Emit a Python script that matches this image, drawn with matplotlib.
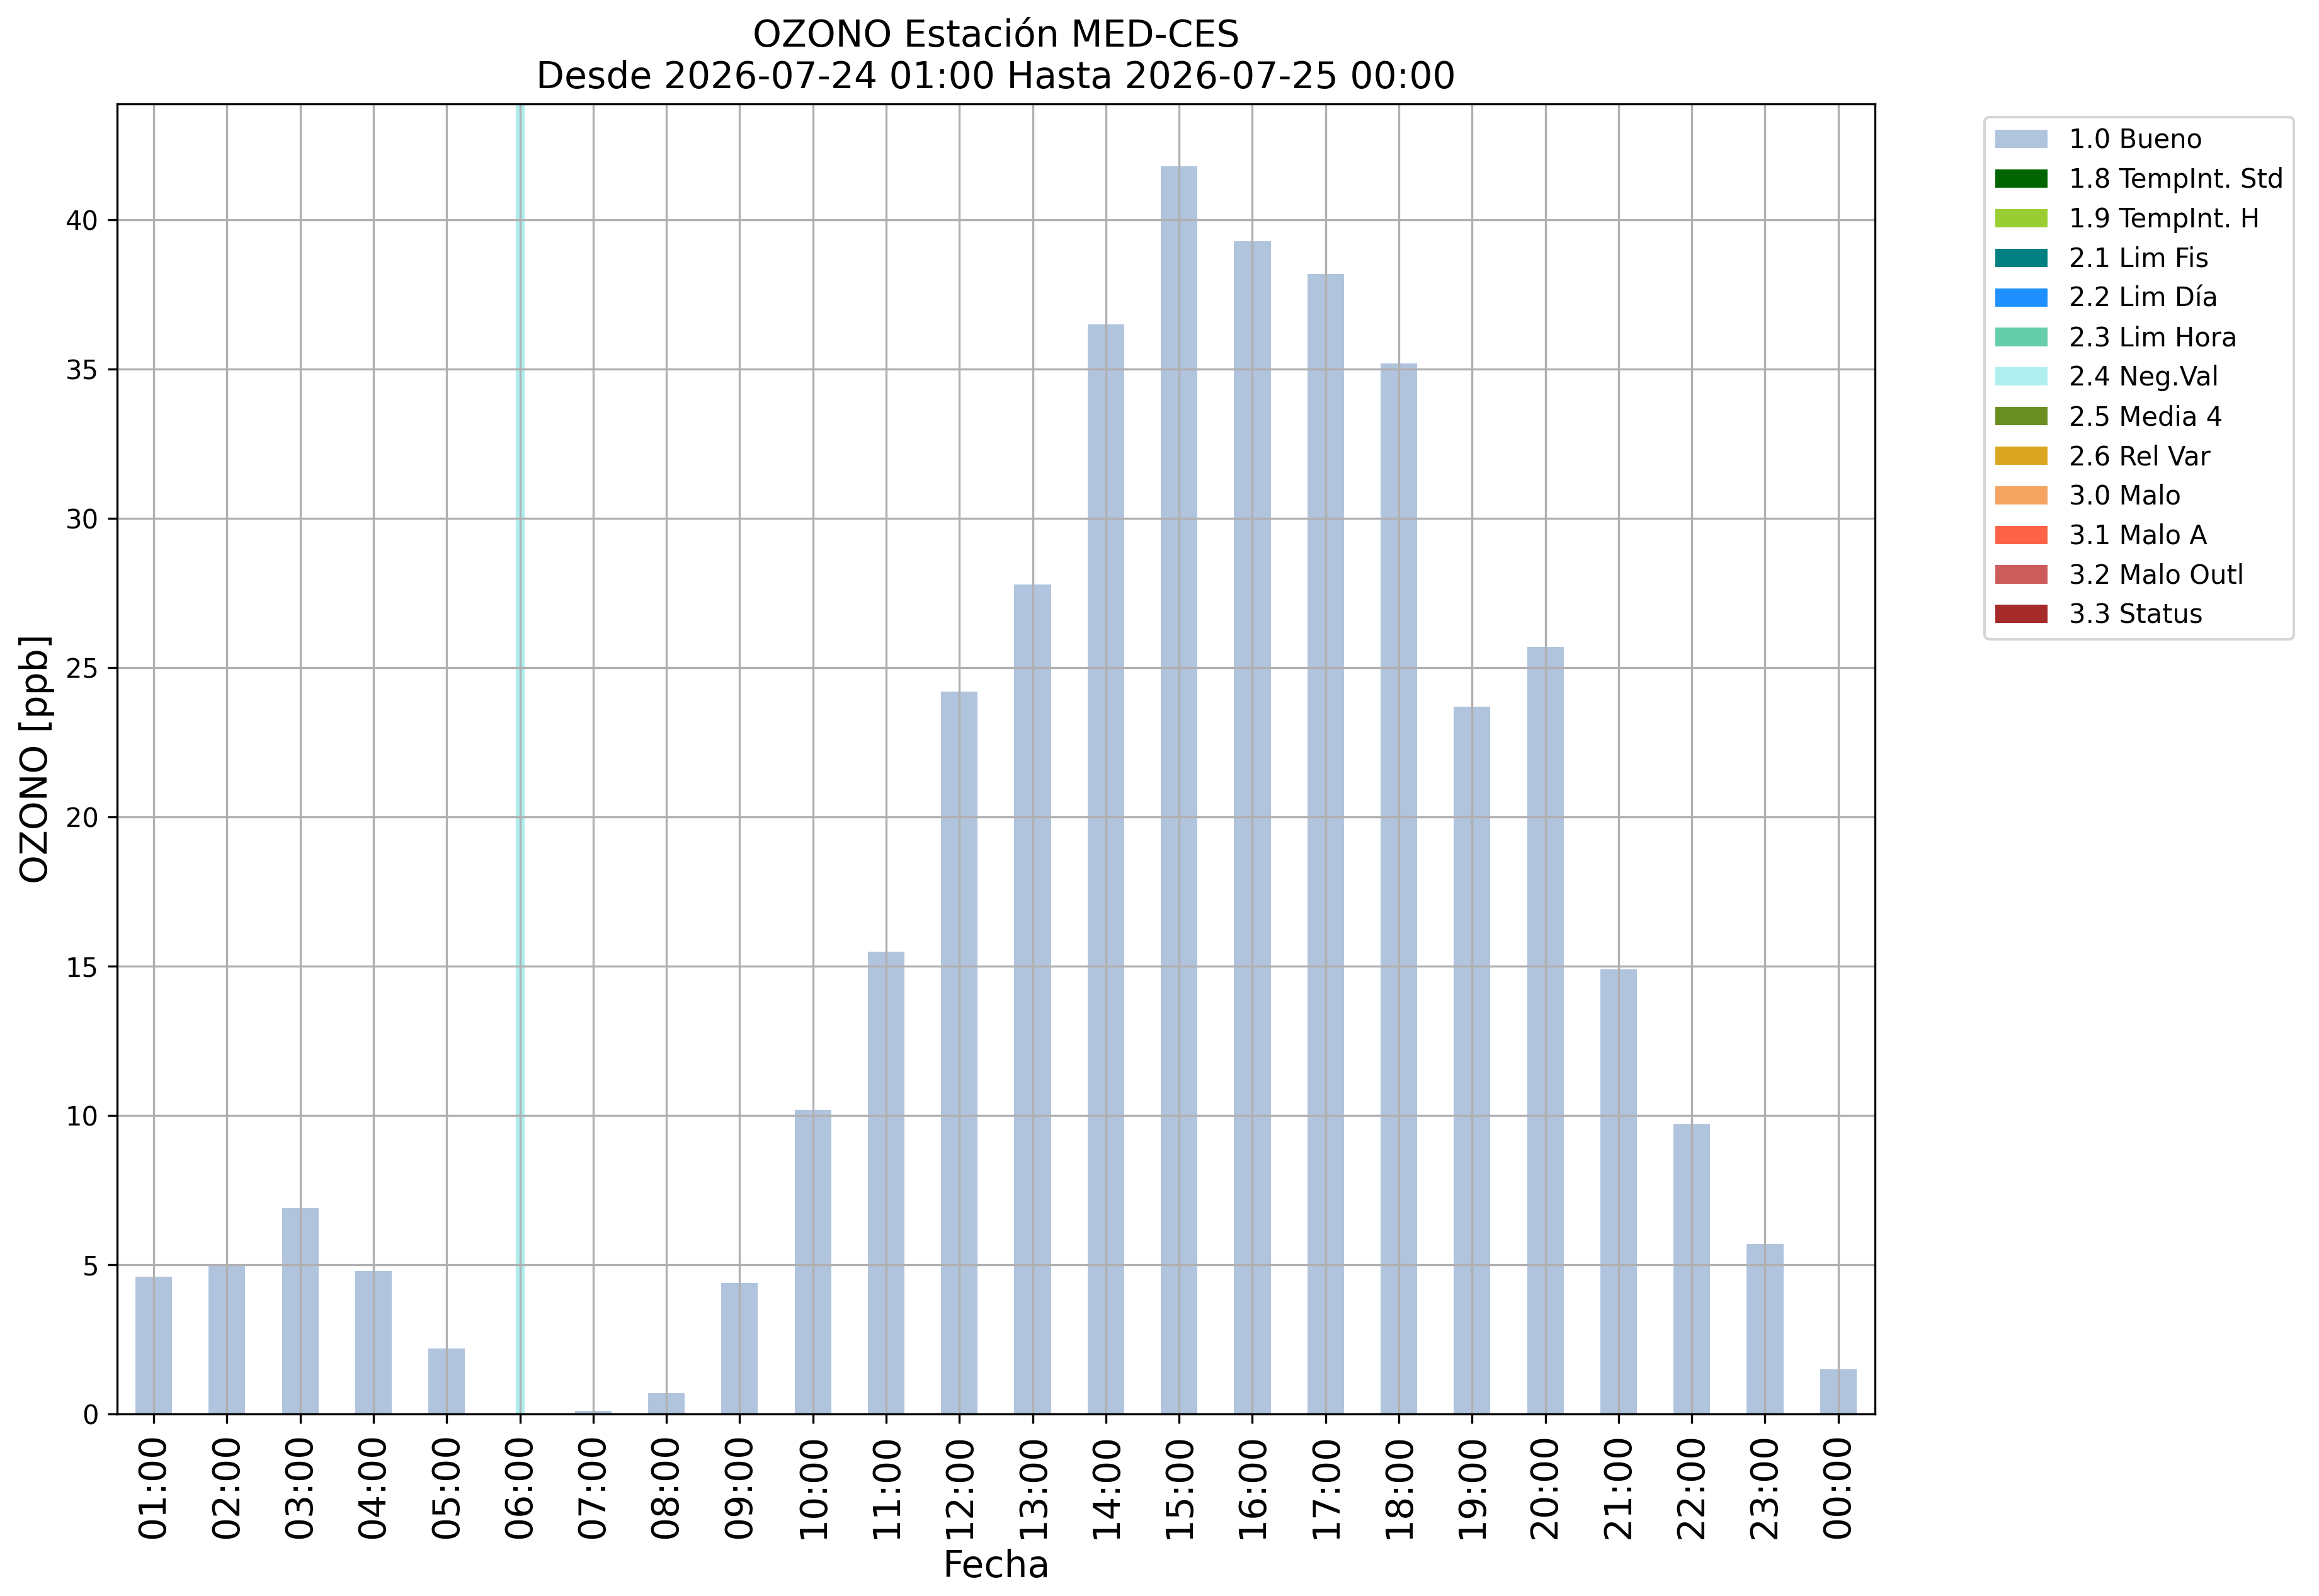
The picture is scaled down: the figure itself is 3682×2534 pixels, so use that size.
import matplotlib
matplotlib.use("Agg")
import matplotlib.pyplot as plt
from matplotlib.patches import Patch
import numpy as np

hours = ["01:00", "02:00", "03:00", "04:00", "05:00", "06:00", "07:00", "08:00",
         "09:00", "10:00", "11:00", "12:00", "13:00", "14:00", "15:00", "16:00",
         "17:00", "18:00", "19:00", "20:00", "21:00", "22:00", "23:00", "00:00"]
ozono = [4.6, 5.0, 6.9, 4.8, 2.2, 0.0, 0.1, 0.7,
         4.4, 10.2, 15.5, 24.2, 27.8, 36.5, 41.8, 39.3,
         38.2, 35.2, 23.7, 25.7, 14.9, 9.7, 5.7, 1.5]
flags = ["1.0", "1.0", "1.0", "1.0", "1.0", "2.4", "1.0", "1.0",
         "1.0", "1.0", "1.0", "1.0", "1.0", "1.0", "1.0", "1.0",
         "1.0", "1.0", "1.0", "1.0", "1.0", "1.0", "1.0", "1.0"]

flag_codes = ["1.0", "1.8", "1.9", "2.1", "2.2", "2.3", "2.4", "2.5", "2.6",
              "3.0", "3.1", "3.2", "3.3"]
flag_names = ["Bueno", "TempInt. Std", "TempInt. H", "Lim Fis", "Lim Día",
              "Lim Hora", "Neg.Val", "Media 4", "Rel Var", "Malo", "Malo A",
              "Malo Outl", "Status"]
flag_colors = ["lightsteelblue", "darkgreen", "yellowgreen", "teal", "dodgerblue",
               "mediumaquamarine", "paleturquoise", "olivedrab", "goldenrod",
               "sandybrown", "tomato", "indianred", "brown"]
color_of = dict(zip(flag_codes, flag_colors))

fig = plt.figure(figsize=(3682 / 300, 2534 / 300), dpi=300)
ax = fig.add_axes([0.0505, 0.1140, 0.758, 0.8209])

x = np.arange(len(hours))
vals = np.array(ozono)
fl = np.array(flags)
good = fl == "1.0"
ax.bar(x[good], vals[good], width=0.5, color=color_of["1.0"], zorder=1)
for xi, f in zip(x, fl):
    if f == "2.4":
        ax.axvline(xi, color=color_of[f], lw=3.4, zorder=1.2)
    elif f != "1.0":
        ax.bar([xi], [vals[xi]], width=0.5, color=color_of[f], zorder=1)

ax.set_xlim(-0.5, len(hours) - 0.5)
ax.margins(y=0.05)
ax.set_ylim(bottom=0)
ax.set_xticks(x)
ax.set_xticklabels(hours, rotation=90, fontsize=14)
ax.tick_params(axis="y", labelsize=10)
ax.grid(True)
ax.set_xlabel("Fecha", fontsize=14)
ax.set_ylabel("OZONO [ppb]", fontsize=14)
ax.set_title("OZONO Estación MED-CES\nDesde 2026-07-24 01:00 Hasta 2026-07-25 00:00",
             fontsize=14)

handles = [Patch(facecolor=c, label=f"{code} {name}")
           for code, name, c in zip(flag_codes, flag_names, flag_colors)]
ax.legend(handles=handles, loc="upper left", bbox_to_anchor=(1.055, 1.0), fontsize=10)

fig.savefig("out.png", dpi=300)
